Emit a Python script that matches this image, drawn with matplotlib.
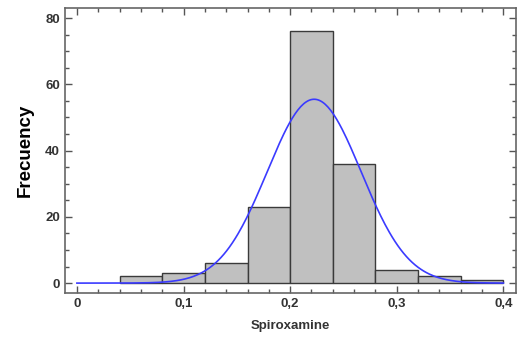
import matplotlib
matplotlib.use("Agg")
import matplotlib.pyplot as plt
from matplotlib.ticker import MultipleLocator, FuncFormatter
import numpy as np

# Histogram data
bin_edges = [0.04, 0.08, 0.12, 0.16, 0.20, 0.24, 0.28, 0.32, 0.36, 0.40]
counts = [2, 3, 6, 23, 76, 36, 4, 2, 1]

# Fitted normal curve parameters
fit_mean = 0.2225
fit_sd = 0.044
curve_range = (0.0, 0.4)

plt.rcParams['font.family'] = ['Liberation Sans', 'DejaVu Sans']

fig = plt.figure(figsize=(5.23, 3.38), dpi=100)
ax = fig.add_axes([0.124, 0.133, 0.863, 0.843])

lefts = bin_edges[:-1]
widths = np.diff(bin_edges)
ax.bar(lefts, counts, width=widths, align='edge', color='#c0c0c0',
       edgecolor='#3a3a3a', linewidth=1.0, zorder=2)

# normal density scaled to counts
n = sum(counts)
bw = widths[0]
xs = np.linspace(curve_range[0], curve_range[1], 300)
ys = n * bw / (fit_sd * np.sqrt(2 * np.pi)) * np.exp(-0.5 * ((xs - fit_mean) / fit_sd) ** 2)
ax.plot(xs, ys, color='#3b3bff', linewidth=1.2, zorder=3)

ax.set_xlim(-0.0113, 0.412)
ax.set_ylim(-3, 83)

ax.xaxis.set_major_locator(MultipleLocator(0.1))
ax.xaxis.set_minor_locator(MultipleLocator(0.02))
ax.yaxis.set_major_locator(MultipleLocator(20))
ax.yaxis.set_minor_locator(MultipleLocator(5))
ax.xaxis.set_major_formatter(FuncFormatter(lambda v, p: ('%g' % round(v, 2)).replace('.', ',')))

ax.tick_params(which='both', direction='in', top=True, right=True, color='#555555')
ax.tick_params(which='major', length=5, width=1)
ax.tick_params(which='minor', length=3, width=1)
ax.tick_params(labelsize=9.5)
for lab in ax.get_xticklabels() + ax.get_yticklabels():
    lab.set_fontweight('bold')
    lab.set_color('#333333')

for s in ax.spines.values():
    s.set_color('#666666')
    s.set_linewidth(1.2)

ax.set_ylabel('Frecuency', fontsize=13.5, fontweight='bold', labelpad=8)
ax.set_xlabel('Spiroxamine', fontsize=9.5, fontweight='bold', color='#333333', labelpad=7)

fig.savefig('out.png', dpi=100)
